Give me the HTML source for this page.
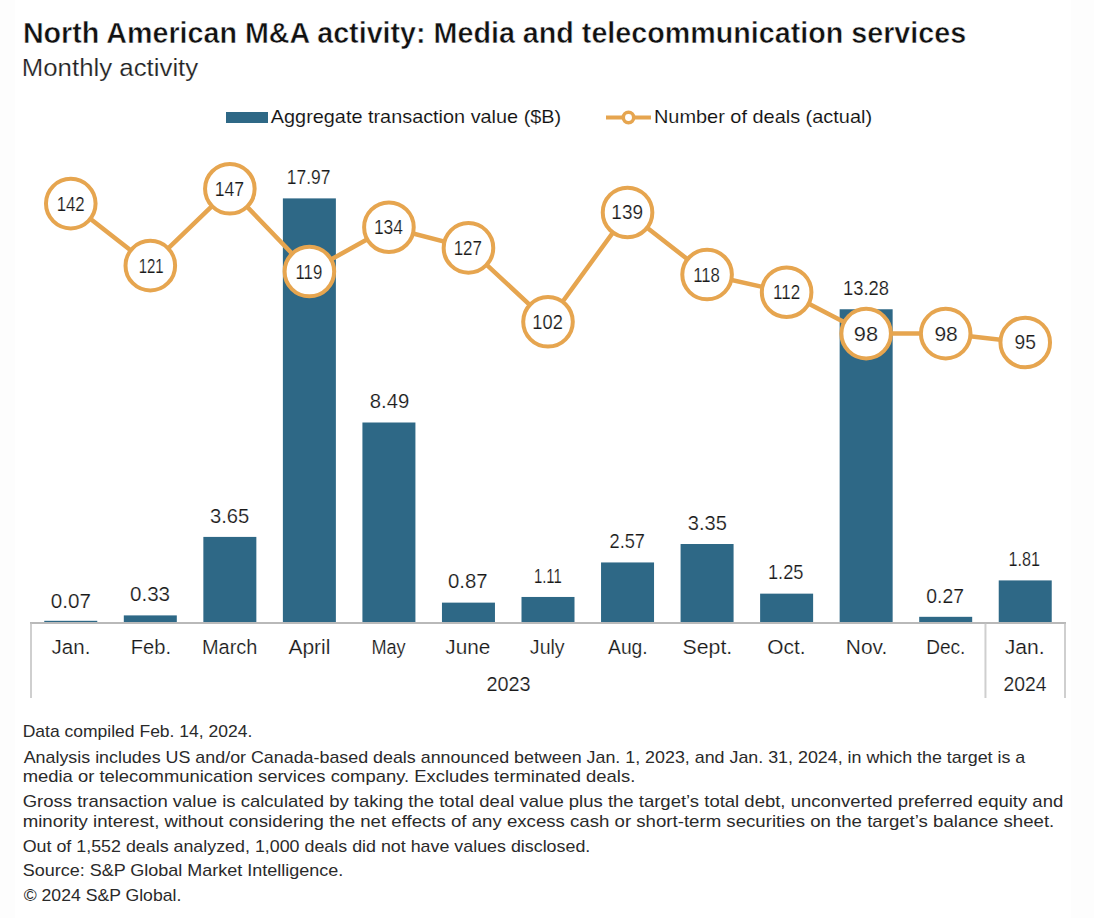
<!DOCTYPE html>
<html><head><meta charset="utf-8"><style>
html,body{margin:0;padding:0;background:#fff;width:1094px;height:918px;overflow:hidden}
svg{display:block}
text{font-family:"Liberation Sans", sans-serif;fill:#111;stroke:#fff;stroke-width:0}
.v{font-size:20px;fill:#1a1a1a;stroke-width:0.18px}
.lg{font-size:19px;stroke-width:0.1px}
.t{font-size:29px;font-weight:bold;stroke-width:0.5px}
.s{font-size:23px;fill:#222;stroke-width:0.2px}
.f{font-size:17px;fill:#2a2a2a}
</style></head><body>
<svg width="1094" height="918" viewBox="0 0 1094 918">
<rect x="0" y="0" width="15" height="918" fill="#fdfdfd"/>
<rect x="1071" y="0" width="23" height="918" fill="#fdfdfd"/>
<rect x="44.27" y="620.80" width="53.0" height="2.40" fill="#2e6886"/>
<rect x="123.81" y="615.40" width="53.0" height="7.80" fill="#2e6886"/>
<rect x="203.35" y="536.91" width="53.0" height="86.29" fill="#2e6886"/>
<rect x="282.88" y="198.39" width="53.0" height="424.81" fill="#2e6886"/>
<rect x="362.42" y="422.50" width="53.0" height="200.70" fill="#2e6886"/>
<rect x="441.96" y="602.63" width="53.0" height="20.57" fill="#2e6886"/>
<rect x="521.50" y="596.96" width="53.0" height="26.24" fill="#2e6886"/>
<rect x="601.04" y="562.45" width="53.0" height="60.75" fill="#2e6886"/>
<rect x="680.58" y="544.01" width="53.0" height="79.19" fill="#2e6886"/>
<rect x="760.12" y="593.65" width="53.0" height="29.55" fill="#2e6886"/>
<rect x="839.65" y="309.26" width="53.0" height="313.94" fill="#2e6886"/>
<rect x="919.19" y="616.82" width="53.0" height="6.38" fill="#2e6886"/>
<rect x="998.73" y="580.41" width="53.0" height="42.79" fill="#2e6886"/>
<line x1="30.0" y1="623" x2="1066.0" y2="623" stroke="#b9b9b9" stroke-width="2"/>
<line x1="31.0" y1="623.8" x2="31.0" y2="698" stroke="#cfcfcf" stroke-width="2"/>
<line x1="985.4615384615383" y1="623.8" x2="985.4615384615383" y2="698" stroke="#cfcfcf" stroke-width="2"/>
<line x1="1065.0" y1="623.8" x2="1065.0" y2="698" stroke="#cfcfcf" stroke-width="2"/>
<text x="50.84" y="608.25" class="v" textLength="40.14" lengthAdjust="spacingAndGlyphs">0.07</text>
<text x="129.96" y="601.20" class="v" textLength="40.09" lengthAdjust="spacingAndGlyphs">0.33</text>
<text x="209.96" y="522.71" class="v" textLength="39.30" lengthAdjust="spacingAndGlyphs">3.65</text>
<text x="286.85" y="184.19" class="v" textLength="43.64" lengthAdjust="spacingAndGlyphs">17.97</text>
<text x="369.75" y="408.30" class="v" textLength="39.51" lengthAdjust="spacingAndGlyphs">8.49</text>
<text x="447.94" y="588.43" class="v" textLength="39.57" lengthAdjust="spacingAndGlyphs">0.87</text>
<text x="533.94" y="582.76" class="v" textLength="27.91" lengthAdjust="spacingAndGlyphs">1.11</text>
<text x="609.56" y="548.25" class="v" textLength="35.47" lengthAdjust="spacingAndGlyphs">2.57</text>
<text x="687.76" y="529.81" class="v" textLength="39.09" lengthAdjust="spacingAndGlyphs">3.35</text>
<text x="767.95" y="579.45" class="v" textLength="35.51" lengthAdjust="spacingAndGlyphs">1.25</text>
<text x="842.97" y="295.06" class="v" textLength="46.01" lengthAdjust="spacingAndGlyphs">13.28</text>
<text x="926.36" y="602.62" class="v" textLength="37.67" lengthAdjust="spacingAndGlyphs">0.27</text>
<text x="1008.54" y="566.21" class="v" textLength="31.52" lengthAdjust="spacingAndGlyphs">1.81</text>
<text x="51.56" y="654.00" class="v" textLength="38.79" lengthAdjust="spacingAndGlyphs">Jan.</text>
<text x="130.83" y="654.00" class="v" textLength="40.20" lengthAdjust="spacingAndGlyphs">Feb.</text>
<text x="201.96" y="654.00" class="v" textLength="55.46" lengthAdjust="spacingAndGlyphs">March</text>
<text x="288.40" y="654.00" class="v" textLength="42.04" lengthAdjust="spacingAndGlyphs">April</text>
<text x="371.38" y="654.00" class="v" textLength="34.20" lengthAdjust="spacingAndGlyphs">May</text>
<text x="445.36" y="654.00" class="v" textLength="45.02" lengthAdjust="spacingAndGlyphs">June</text>
<text x="529.87" y="654.00" class="v" textLength="34.79" lengthAdjust="spacingAndGlyphs">July</text>
<text x="608.00" y="654.00" class="v" textLength="39.73" lengthAdjust="spacingAndGlyphs">Aug.</text>
<text x="682.55" y="654.00" class="v" textLength="49.72" lengthAdjust="spacingAndGlyphs">Sept.</text>
<text x="767.22" y="654.00" class="v" textLength="38.37" lengthAdjust="spacingAndGlyphs">Oct.</text>
<text x="845.83" y="654.00" class="v" textLength="41.43" lengthAdjust="spacingAndGlyphs">Nov.</text>
<text x="926.13" y="654.00" class="v" textLength="39.21" lengthAdjust="spacingAndGlyphs">Dec.</text>
<text x="1004.73" y="654.00" class="v" textLength="39.97" lengthAdjust="spacingAndGlyphs">Jan.</text>
<text x="486.55" y="691.00" class="v" textLength="44.09" lengthAdjust="spacingAndGlyphs">2023</text>
<text x="1003.46" y="691.00" class="v" textLength="43.05" lengthAdjust="spacingAndGlyphs">2024</text>
<polyline points="70.77,203.59 150.31,265.65 229.85,188.82 309.38,271.56 388.92,227.23 468.46,247.92 548.00,321.79 627.54,212.46 707.08,274.51 786.62,292.24 866.15,333.61 945.69,333.61 1025.23,342.48" fill="none" stroke="#e6a54f" stroke-width="4.5" stroke-linejoin="round"/>
<circle cx="70.77" cy="203.59" r="24.8" fill="#fff" stroke="#e6a54f" stroke-width="4"/>
<circle cx="150.31" cy="265.65" r="24.8" fill="#fff" stroke="#e6a54f" stroke-width="4"/>
<circle cx="229.85" cy="188.82" r="24.8" fill="#fff" stroke="#e6a54f" stroke-width="4"/>
<circle cx="309.38" cy="271.56" r="24.8" fill="#fff" stroke="#e6a54f" stroke-width="4"/>
<circle cx="388.92" cy="227.23" r="24.8" fill="#fff" stroke="#e6a54f" stroke-width="4"/>
<circle cx="468.46" cy="247.92" r="24.8" fill="#fff" stroke="#e6a54f" stroke-width="4"/>
<circle cx="548.00" cy="321.79" r="24.8" fill="#fff" stroke="#e6a54f" stroke-width="4"/>
<circle cx="627.54" cy="212.46" r="24.8" fill="#fff" stroke="#e6a54f" stroke-width="4"/>
<circle cx="707.08" cy="274.51" r="24.8" fill="#fff" stroke="#e6a54f" stroke-width="4"/>
<circle cx="786.62" cy="292.24" r="24.8" fill="#fff" stroke="#e6a54f" stroke-width="4"/>
<circle cx="866.15" cy="333.61" r="24.8" fill="#fff" stroke="#e6a54f" stroke-width="4"/>
<circle cx="945.69" cy="333.61" r="24.8" fill="#fff" stroke="#e6a54f" stroke-width="4"/>
<circle cx="1025.23" cy="342.48" r="24.8" fill="#fff" stroke="#e6a54f" stroke-width="4"/>
<rect x="226" y="112" width="42" height="11" fill="#2e6886"/>
<line x1="606" y1="117.5" x2="651" y2="117.5" stroke="#e6a54f" stroke-width="4"/>
<circle cx="628.5" cy="117.5" r="5.2" fill="#fff" stroke="#e6a54f" stroke-width="3.5"/>
<text x="56.64" y="210.59" class="v" textLength="28.07" lengthAdjust="spacingAndGlyphs">142</text>
<text x="138.63" y="272.65" class="v" textLength="25.08" lengthAdjust="spacingAndGlyphs">121</text>
<text x="214.76" y="195.82" class="v" textLength="29.43" lengthAdjust="spacingAndGlyphs">147</text>
<text x="295.52" y="278.56" class="v" textLength="26.73" lengthAdjust="spacingAndGlyphs">119</text>
<text x="373.94" y="234.23" class="v" textLength="29.06" lengthAdjust="spacingAndGlyphs">134</text>
<text x="453.64" y="254.92" class="v" textLength="28.28" lengthAdjust="spacingAndGlyphs">127</text>
<text x="532.36" y="328.79" class="v" textLength="30.42" lengthAdjust="spacingAndGlyphs">102</text>
<text x="611.34" y="219.46" class="v" textLength="31.69" lengthAdjust="spacingAndGlyphs">139</text>
<text x="693.22" y="281.51" class="v" textLength="26.73" lengthAdjust="spacingAndGlyphs">118</text>
<text x="773.04" y="299.24" class="v" textLength="27.08" lengthAdjust="spacingAndGlyphs">112</text>
<text x="853.88" y="340.61" class="v" textLength="24.24" lengthAdjust="spacingAndGlyphs">98</text>
<text x="934.42" y="340.61" class="v" textLength="23.38" lengthAdjust="spacingAndGlyphs">98</text>
<text x="1014.51" y="349.48" class="v" textLength="21.39" lengthAdjust="spacingAndGlyphs">95</text>
<text x="270.80" y="123.00" class="lg" textLength="290.38" lengthAdjust="spacingAndGlyphs">Aggregate transaction value ($B)</text>
<text x="653.99" y="123.00" class="lg" textLength="218.05" lengthAdjust="spacingAndGlyphs">Number of deals (actual)</text>
<text x="22.89" y="42.80" class="t" textLength="943.22" lengthAdjust="spacingAndGlyphs">North American M&amp;A activity: Media and telecommunication services</text>
<text x="21.78" y="76.30" class="s" textLength="176.44" lengthAdjust="spacingAndGlyphs">Monthly activity</text>
<text x="22.69" y="737.30" class="f" textLength="229.65" lengthAdjust="spacingAndGlyphs">Data compiled Feb. 14, 2024.</text>
<text x="23.70" y="762.80" class="f" textLength="1001.60" lengthAdjust="spacingAndGlyphs">Analysis includes US and/or Canada-based deals announced between Jan. 1, 2023, and Jan. 31, 2024, in which the target is a</text>
<text x="22.70" y="781.90" class="f" textLength="612.57" lengthAdjust="spacingAndGlyphs">media or telecommunication services company. Excludes terminated deals.</text>
<text x="22.70" y="807.20" class="f" textLength="1040.55" lengthAdjust="spacingAndGlyphs">Gross transaction value is calculated by taking the total deal value plus the target’s total debt, unconverted preferred equity and</text>
<text x="22.70" y="826.50" class="f" textLength="1031.57" lengthAdjust="spacingAndGlyphs">minority interest, without considering the net effects of any excess cash or short-term securities on the target’s balance sheet.</text>
<text x="22.70" y="852.20" class="f" textLength="567.60" lengthAdjust="spacingAndGlyphs">Out of 1,552 deals analyzed, 1,000 deals did not have values disclosed.</text>
<text x="22.69" y="875.80" class="f" textLength="320.63" lengthAdjust="spacingAndGlyphs">Source: S&amp;P Global Market Intelligence.</text>
<text x="23.70" y="901.00" class="f" textLength="157.60" lengthAdjust="spacingAndGlyphs">© 2024 S&amp;P Global.</text>
</svg>
</body></html>
